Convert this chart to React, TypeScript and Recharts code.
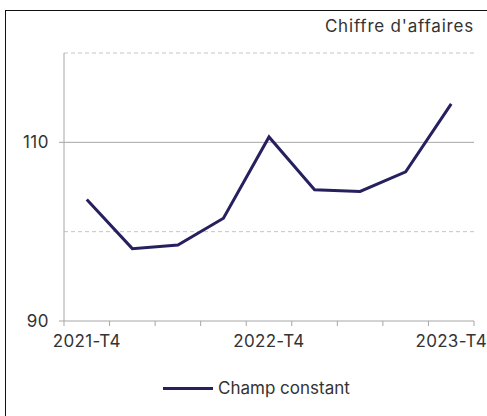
import { Legend, Line, LineChart, ReferenceLine, XAxis, YAxis } from "recharts";

const quarters = [
  "2021-T4",
  "2022-T1",
  "2022-T2",
  "2022-T3",
  "2022-T4",
  "2023-T1",
  "2023-T2",
  "2023-T3",
  "2023-T4",
];
const champConstant = [103.6, 98.1, 98.5, 101.5, 110.6, 104.7, 104.5, 106.7, 114.3];
const labelledQuarters = [0, 4, 8];
const yTicks = [90, 110];
const dashedLevels = [100, 120];

const data = quarters.map((q, i) => ({ i, q, value: champConstant[i] }));

// ticks sit between categories, labels sit on categories
const xTicks: number[] = [];
for (let k = 0; k <= quarters.length; k++) {
  xTicks.push(k - 0.5);
  if (k < quarters.length && labelledQuarters.includes(k)) xTicks.push(k);
}

const FONT = "Inter, 'Noto Sans', sans-serif";
const FS = 17;
const SPACING = 0.8;
const GRID = "#a6a6a6";
const NAVY = "#27205e";
const INK = "#333";

function QuarterTick(props: any) {
  const { x, y, payload } = props;
  const v = payload.value as number;
  if (!Number.isInteger(v)) {
    return <line x1={x} x2={x} y1={y} y2={y + 5} stroke={GRID} strokeWidth={1} />;
  }
  return (
    <text
      x={x}
      y={y + 26}
      textAnchor="middle"
      fill={INK}
      fontSize={FS}
      fontFamily={FONT}
      letterSpacing={0.3}
    >
      {quarters[v]}
    </text>
  );
}

function LegendContent() {
  return (
    <div
      style={{
        display: "flex",
        alignItems: "center",
        fontFamily: FONT,
        fontSize: FS,
        color: INK,
      }}
    >
      <span style={{ display: "inline-block", width: 50, height: 3, background: NAVY, marginRight: 5 }} />
      Champ constant
    </div>
  );
}

export default function App() {
  return (
    <div style={{ position: "absolute", left: 0, top: 0, width: 487, height: 416, overflow: "hidden", background: "#fff" }}>
      <div
        style={{
          position: "absolute",
          left: 5,
          top: 10,
          width: 500,
          height: 420,
          border: "1px solid #111",
          boxSizing: "border-box",
        }}
      />
      <div
        style={{
          position: "absolute",
          right: 13,
          top: 16,
          fontFamily: FONT,
          fontSize: FS,
          letterSpacing: SPACING,
          color: INK,
          whiteSpace: "nowrap",
        }}
      >
        Chiffre d'affaires
      </div>
      <div style={{ position: "absolute", left: 0, top: 0 }}>
        <LineChart width={487} height={416} data={data} margin={{ top: 53, right: 13, bottom: 45, left: 0 }}>
          <XAxis
            dataKey="i"
            type="number"
            domain={[-0.5, quarters.length - 0.5]}
            ticks={xTicks}
            interval={0}
            tickLine={false}
            tickSize={0}
            tickMargin={0}
            tick={<QuarterTick />}
            stroke={GRID}
            height={30}
          />
          <YAxis
            domain={[90, 120]}
            ticks={yTicks}
            interval={0}
            width={64}
            tickSize={5}
            tickMargin={10}
            stroke={GRID}
            tick={{ fill: INK, fontSize: FS, fontFamily: FONT, letterSpacing: 0.5 }}
          />
          {dashedLevels.map((lv) => (
            <ReferenceLine key={lv} y={lv} stroke="#c4c4c4" strokeDasharray="4 3" />
          ))}
          <ReferenceLine y={110} stroke={GRID} />
          <Legend
            content={<LegendContent />}
            wrapperStyle={{ position: "absolute", left: 163, top: 378, width: "auto" }}
          />
          <Line
            dataKey="value"
            stroke={NAVY}
            strokeWidth={3}
            dot={false}
            type="linear"
            isAnimationActive={false}
          />
        </LineChart>
      </div>
    </div>
  );
}
